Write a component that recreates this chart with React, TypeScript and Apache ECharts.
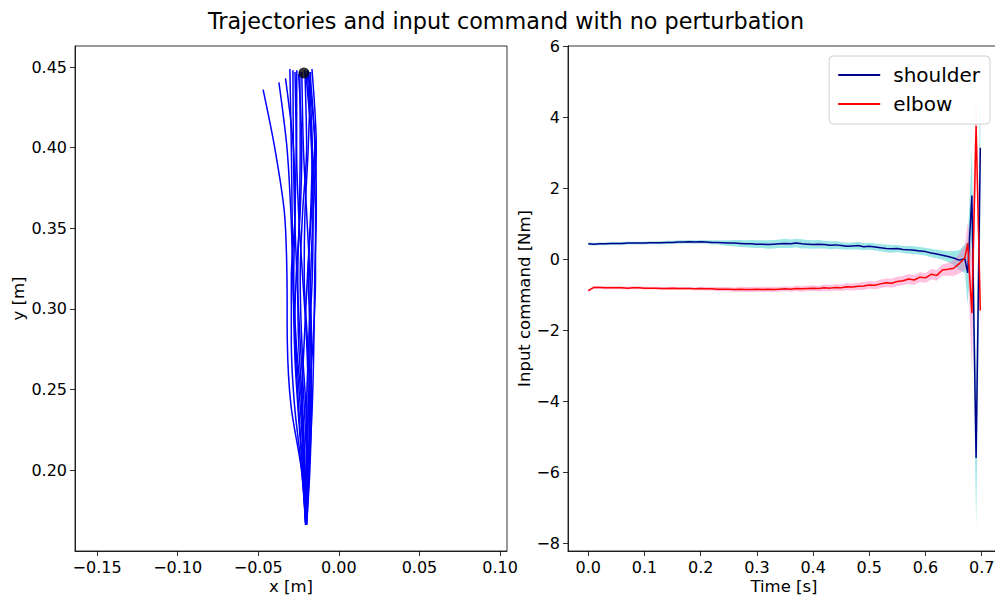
import React, { useEffect, useRef } from "react";
import * as echarts from "echarts";

const TITLE = "Trajectories and input command with no perturbation";

// ---- Left panel: hand trajectories ----
const Y_LEVELS = [0.166, 0.2, 0.24, 0.28, 0.32, 0.36, 0.4];
const TRAJ_X: number[][] = [
  [-0.0207, -0.0232, -0.0297, -0.032, -0.0322, -0.0338, -0.0398],
  [-0.0205, -0.0225, -0.025, -0.0275, -0.0285, -0.0298, -0.0322],
  [-0.0205, -0.023, -0.0275, -0.0295, -0.0295, -0.0272, -0.0282],
  [-0.0205, -0.0215, -0.024, -0.027, -0.0285, -0.029, -0.0295],
  [-0.0205, -0.02, -0.0215, -0.024, -0.026, -0.0275, -0.0282],
  [-0.0203, -0.0195, -0.019, -0.02, -0.0225, -0.025, -0.0262],
  [-0.0205, -0.021, -0.0225, -0.025, -0.0255, -0.0245, -0.024],
  [-0.0202, -0.019, -0.0175, -0.017, -0.018, -0.02, -0.022],
  [-0.0205, -0.02, -0.019, -0.016, -0.0145, -0.0145, -0.0165],
  [-0.0203, -0.0185, -0.0165, -0.0155, -0.015, -0.014, -0.0145],
  [-0.02, -0.018, -0.017, -0.0175, -0.019, -0.017, -0.015],
  [-0.02, -0.0185, -0.018, -0.0185, -0.0175, -0.016, -0.014],
  [-0.0205, -0.022, -0.023, -0.0215, -0.0195, -0.0175, -0.0165],
  [-0.0205, -0.0195, -0.0205, -0.023, -0.024, -0.0225, -0.02],
  [-0.0205, -0.0225, -0.0255, -0.0275, -0.0265, -0.024, -0.023],
  [-0.0205, -0.021, -0.023, -0.0265, -0.028, -0.0272, -0.0265],
  [-0.0205, -0.019, -0.018, -0.0195, -0.0215, -0.021, -0.019],
  [-0.0204, -0.02, -0.02, -0.0185, -0.0165, -0.016, -0.017],
];
const TRAJ_END: number[][] = [
  [-0.047, 0.436], [-0.0372, 0.4405], [-0.0331, 0.443], [-0.0304, 0.4488],
  [-0.0285, 0.4481], [-0.0261, 0.4481], [-0.0242, 0.4469], [-0.023, 0.447],
  [-0.0205, 0.4457], [-0.0192, 0.448], [-0.018, 0.447], [-0.0167, 0.4488],
  [-0.0186, 0.445], [-0.0211, 0.4481], [-0.025, 0.4457], [-0.0272, 0.447],
  [-0.0175, 0.447], [-0.0196, 0.4475],
];
const TARGET = [-0.0217, 0.4463];
const LEFT_X_TICKS = [-0.15, -0.1, -0.05, 0, 0.05, 0.1];
const LEFT_Y_TICKS = [0.2, 0.25, 0.3, 0.35, 0.4, 0.45];

// ---- Right panel: input commands ----
const TIME = [
  0, 0.01, 0.02, 0.03, 0.04, 0.05, 0.06, 0.07, 0.08, 0.09,
  0.1, 0.11, 0.12, 0.13, 0.14, 0.15, 0.16, 0.17, 0.18, 0.19,
  0.2, 0.21, 0.22, 0.23, 0.24, 0.25, 0.26, 0.27, 0.28, 0.29,
  0.3, 0.31, 0.32, 0.33, 0.34, 0.35, 0.36, 0.37, 0.38, 0.39,
  0.4, 0.41, 0.42, 0.43, 0.44, 0.45, 0.46, 0.47, 0.48, 0.49,
  0.5, 0.51, 0.52, 0.53, 0.54, 0.55, 0.56, 0.57, 0.58, 0.59,
  0.6, 0.61, 0.62, 0.63, 0.64, 0.65, 0.66, 0.67,
  0.675, 0.6825, 0.69, 0.6975,
];
const SHOULDER = [
  0.44, 0.43, 0.44, 0.44, 0.45, 0.45, 0.45, 0.46, 0.46, 0.46,
  0.46, 0.47, 0.47, 0.47, 0.48, 0.48, 0.49, 0.49, 0.5, 0.49,
  0.5, 0.49, 0.48, 0.48, 0.47, 0.46, 0.46, 0.45, 0.44, 0.44,
  0.43, 0.43, 0.42, 0.43, 0.44, 0.45, 0.44, 0.46, 0.44, 0.43,
  0.42, 0.43, 0.42, 0.4, 0.41, 0.39, 0.37, 0.38, 0.39, 0.36,
  0.37, 0.35, 0.33, 0.31, 0.3, 0.31, 0.28, 0.27, 0.26, 0.24,
  0.22, 0.18, 0.15, 0.12, 0.08, 0.04, -0.02, 0.02,
  -0.38, 1.8, -5.6, 3.15,
];
const SHOULDER_STD = [
  0.04, 0.04, 0.04, 0.04, 0.04, 0.04, 0.04, 0.04, 0.04, 0.04,
  0.04, 0.04, 0.04, 0.045, 0.045, 0.045, 0.05, 0.05, 0.05, 0.05,
  0.05, 0.05, 0.06, 0.06, 0.07, 0.08, 0.09, 0.1, 0.1, 0.11,
  0.11, 0.11, 0.12, 0.12, 0.12, 0.13, 0.12, 0.12, 0.13, 0.12,
  0.12, 0.12, 0.11, 0.11, 0.11, 0.1, 0.1, 0.1, 0.11, 0.1,
  0.1, 0.1, 0.1, 0.11, 0.11, 0.1, 0.1, 0.11, 0.11, 0.11,
  0.11, 0.12, 0.12, 0.13, 0.15, 0.2, 0.28, 0.4,
  0.9, 1.3, 1.95, 2.35,
];
const ELBOW = [
  -0.88, -0.79, -0.79, -0.8, -0.8, -0.8, -0.8, -0.81, -0.8, -0.8,
  -0.81, -0.81, -0.81, -0.82, -0.82, -0.81, -0.82, -0.82, -0.82, -0.83,
  -0.82, -0.83, -0.83, -0.84, -0.84, -0.84, -0.85, -0.84, -0.85, -0.85,
  -0.84, -0.85, -0.84, -0.85, -0.84, -0.83, -0.84, -0.82, -0.83, -0.82,
  -0.81, -0.82, -0.8, -0.81, -0.79, -0.8, -0.77, -0.78, -0.76, -0.75,
  -0.72, -0.73, -0.69, -0.66, -0.67, -0.62, -0.6, -0.55, -0.58, -0.5,
  -0.52, -0.42, -0.45, -0.3, -0.28, -0.25, -0.12, 0.05,
  0.45, -1.52, 3.77, -1.44,
];
const ELBOW_STD = [
  0.04, 0.04, 0.04, 0.04, 0.04, 0.04, 0.04, 0.04, 0.04, 0.04,
  0.04, 0.04, 0.04, 0.04, 0.04, 0.04, 0.04, 0.04, 0.04, 0.04,
  0.05, 0.05, 0.05, 0.06, 0.06, 0.06, 0.06, 0.07, 0.07, 0.07,
  0.07, 0.07, 0.07, 0.07, 0.07, 0.07, 0.07, 0.08, 0.08, 0.08,
  0.08, 0.08, 0.09, 0.09, 0.09, 0.09, 0.1, 0.1, 0.1, 0.11,
  0.11, 0.11, 0.12, 0.12, 0.13, 0.13, 0.13, 0.14, 0.14, 0.14,
  0.14, 0.15, 0.15, 0.16, 0.18, 0.22, 0.28, 0.35,
  0.6, 1.7, 1.15, 0.55,
];
const RIGHT_X_TICKS = [0, 0.1, 0.2, 0.3, 0.4, 0.5, 0.6, 0.7];
const RIGHT_Y_TICKS = [-8, -6, -4, -2, 0, 2, 4, 6];

const FONT = "DejaVu Sans";
const minus = (s: string) => s.replace("-", "\u2212");

function bandSeries(name: string, mean: number[], std: number[], fill: string) {
  return {
    type: "custom",
    name,
    xAxisIndex: 1,
    yAxisIndex: 1,
    silent: true,
    z: 1,
    data: [[0, 0]],
    renderItem: (_p: any, api: any) => {
      const pts: number[][] = [];
      for (let i = 0; i < TIME.length; i++) pts.push(api.coord([TIME[i], mean[i] + std[i]]));
      for (let i = TIME.length - 1; i >= 0; i--) pts.push(api.coord([TIME[i], mean[i] - std[i]]));
      return { type: "polygon", shape: { points: pts }, style: { fill, stroke: "none" } };
    },
  };
}

function axisCommon(ticks: number[], fmt: (v: number) => string) {
  return {
    axisLine: { show: true, onZero: false, lineStyle: { color: "#000", width: 0.8 } },
    axisTick: { show: true, inside: false, length: 5, customValues: ticks, lineStyle: { color: "#000", width: 0.8 } },
    axisLabel: { customValues: ticks, formatter: fmt, fontFamily: FONT, fontSize: 16, color: "#000", margin: 8 },
    splitLine: { show: false },
    nameTextStyle: { fontFamily: FONT, fontSize: 16.5, color: "#000" },
    nameLocation: "middle",
  };
}

function axisTitle(text: string, x: number, y: number) {
  return {
    type: "text",
    x,
    y,
    silent: true,
    style: { text, font: `16.5px "${FONT}"`, fill: "#000", textAlign: "center", textVerticalAlign: "middle" },
  };
}

export default function App() {
  const ref = useRef<HTMLDivElement>(null);
  useEffect(() => {
    if (!ref.current) return;
    const chart = echarts.init(ref.current, undefined, { renderer: "svg" });
    const trajSeries = TRAJ_X.map((xs, k) => ({
      type: "line",
      xAxisIndex: 0,
      yAxisIndex: 0,
      smooth: 0.3,
      symbol: "none",
      silent: true,
      lineStyle: { color: "#0000ff", width: 1.5 },
      data: [...xs.map((x, i) => [x, Y_LEVELS[i]]), TRAJ_END[k]],
    }));
    chart.setOption({
      animation: false,
      graphic: [
        {
          type: "text",
          x: 506,
          y: 21,
          style: { text: TITLE, font: `22.3px "${FONT}"`, fill: "#000", textAlign: "center", textVerticalAlign: "middle" },
        },
        axisTitle("x [m]", 291, 586),
        axisTitle("Time [s]", 784, 586),
      ],
      grid: [
        { left: 75, top: 46, width: 432, height: 505, show: true, borderColor: "#000", borderWidth: 0.8, backgroundColor: "transparent", outerBoundsMode: "none" },
        { left: 568, top: 46, width: 433, height: 505, show: true, borderColor: "#000", borderWidth: 0.8, backgroundColor: "transparent", outerBoundsMode: "none" },
      ],
      legend: {
        right: 5,
        top: 56,
        orient: "vertical",
        data: [
          { name: "shoulder", icon: "rect" },
          { name: "elbow", icon: "rect" },
        ],
        itemWidth: 42,
        itemHeight: 2,
        itemGap: 9,
        padding: [9, 10, 10, 9],
        borderColor: "#d0d0d0",
        borderWidth: 1,
        borderRadius: 4,
        backgroundColor: "rgba(255,255,255,0.8)",
        textStyle: { fontFamily: FONT, fontSize: 20, color: "#000", padding: [0, 0, 0, 8] },
      },
      xAxis: [
        {
          type: "value",
          gridIndex: 0,
          min: -0.1637,
          max: 0.1043,
          ...axisCommon(LEFT_X_TICKS, (v: number) => minus(v.toFixed(2))),
        },
        {
          type: "value",
          gridIndex: 1,
          min: -0.0361,
          max: 0.7343,
          ...axisCommon(RIGHT_X_TICKS, (v: number) => minus(v.toFixed(1))),
        },
      ],
      yAxis: [
        {
          type: "value",
          gridIndex: 0,
          min: 0.1498,
          max: 0.4631,
          name: "y [m]",
          nameGap: 46,
          ...axisCommon(LEFT_Y_TICKS, (v: number) => minus(v.toFixed(2))),
        },
        {
          type: "value",
          gridIndex: 1,
          min: -8.225,
          max: 6.02,
          name: "Input command [Nm]",
          nameGap: 34,
          ...axisCommon(RIGHT_Y_TICKS, (v: number) => minus(String(Math.round(v)))),
        },
      ],
      series: [
        ...trajSeries,
        {
          type: "scatter",
          xAxisIndex: 0,
          yAxisIndex: 0,
          symbolSize: 11,
          itemStyle: { color: "#000" },
          silent: true,
          z: 3,
          data: [TARGET],
        },
        bandSeries("shoulderBand", SHOULDER, SHOULDER_STD, "rgba(0,191,191,0.38)"),
        bandSeries("elbowBand", ELBOW, ELBOW_STD, "rgba(255,105,180,0.4)"),
        {
          type: "line",
          name: "shoulder",
          xAxisIndex: 1,
          yAxisIndex: 1,
          symbol: "none",
          z: 3,
          color: "#00008b",
          lineStyle: { color: "#00008b", width: 1.5 },
          data: TIME.map((t, i) => [t, SHOULDER[i]]),
        },
        {
          type: "line",
          name: "elbow",
          xAxisIndex: 1,
          yAxisIndex: 1,
          symbol: "none",
          z: 3,
          color: "#ff0000",
          lineStyle: { color: "#ff0000", width: 1.5 },
          data: TIME.map((t, i) => [t, ELBOW[i]]),
        },
      ],
    });
    return () => chart.dispose();
  }, []);
  return <div ref={ref} style={{ width: 995, height: 596, position: "absolute", left: 0, top: 0 }} />;
}
